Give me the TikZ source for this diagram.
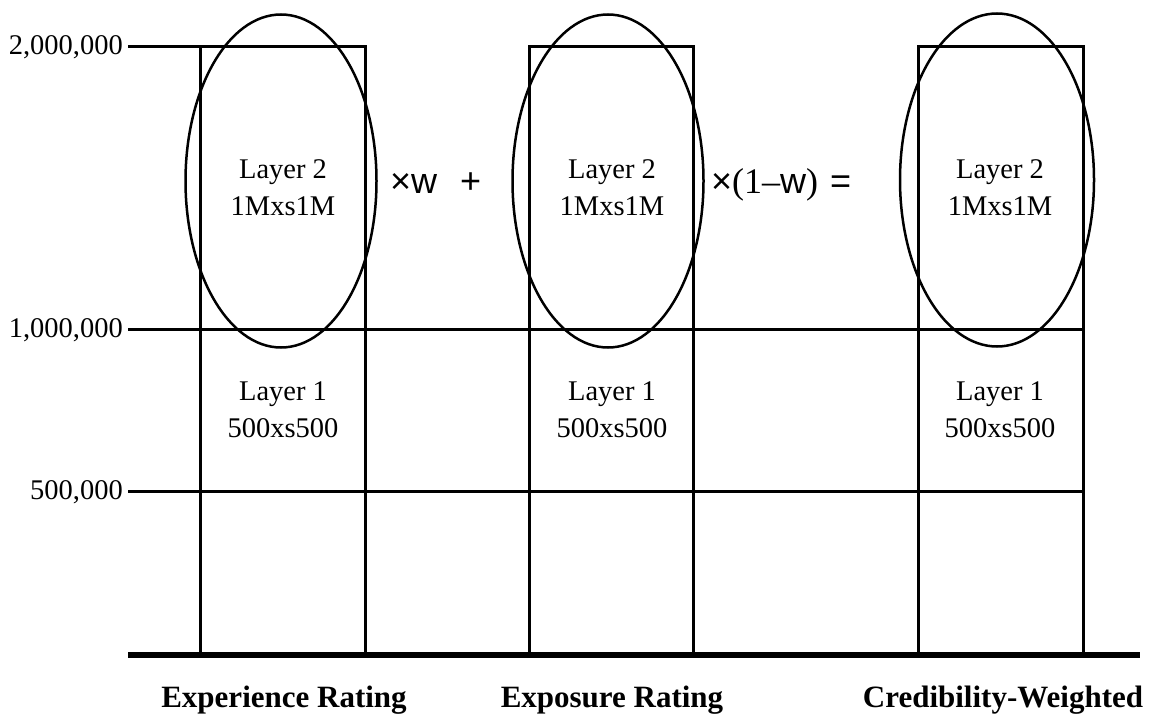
\documentclass[tikz,border=0pt]{standalone}
\usepackage{fontspec}
\setmainfont{Liberation Serif}
\newfontfamily\sansf{Liberation Sans}
\usetikzlibrary{shapes.geometric}
\begin{document}
\begin{tikzpicture}[x=1pt,y=-1pt,
  boxline/.style={line width=3pt},
  oval/.style={draw,line width=2.5pt,ellipse,inner sep=0pt},
  lab/.style={font=\fontsize{28.5}{34}\selectfont,anchor=base,inner sep=0pt},
  axlab/.style={font=\fontsize{28.5}{34}\selectfont,anchor=base east,inner sep=0pt},
  oplab/.style={font=\fontsize{36}{40}\selectfont,inner sep=0pt,anchor=base west},
  captext/.style={font=\bfseries\fontsize{31}{34}\selectfont,inner sep=0pt,anchor=base}]
\useasboundingbox (0,0) rectangle (1164,725);
% axis labels
\node[axlab] (l2m) at (123,55) {2,000,000};
\node[axlab] (l1m) at (123,337) {1,000,000};
\node[axlab] (l5k) at (123,499) {500,000};
% coordinates
\coordinate (a0) at (128,47);
\coordinate (b0) at (128,329);
\coordinate (c0) at (128,491);
\coordinate (d0) at (128,655);
\coordinate (b1) at (1083,329);
\coordinate (c1) at (1083,491);
\coordinate (d1) at (1140,655);
% boxes
\foreach \n/\xl/\xr in {1/200/365,2/529/693,3/918/1083}{
  \draw[boxline] (\xl,655) -- (\xl,47) -- (\xr,47) -- (\xr,655);
}
\draw[boxline] (a0) -- (200,47);
\draw[boxline] (b0) -- (b1);
\draw[boxline] (c0) -- (c1);
\draw[line width=5.5pt] (d0) -- (d1);
% ellipses
\node[oval,minimum width=191pt,minimum height=333pt] (e1) at (281,181) {};
\node[oval,minimum width=191pt,minimum height=333pt] (e2) at (608,181) {};
\node[oval,minimum width=194pt,minimum height=333pt] (e3) at (997,180) {};
% texts
\foreach \n/\x in {1/283,2/612,3/1000}{
  \node[lab] (t2a\n) at (\x,178) {Layer 2};
  \node[lab] (t2b\n) at (\x,215) {1Mxs1M};
  \node[lab] (t1a\n) at (\x,400) {Layer 1};
  \node[lab] (t1b\n) at (\x,437) {500xs500};
}
% operators
\node[oplab] (opw) at (390,193) {{\sansf ×w}};
\node[oplab] (opp) at (460,193) {{\sansf +}};
\node[oplab] (opm) at (711,193) {{\sansf ×}(1–{\sansf w})\,\,{\sansf =}};
% captions
\node[captext] (c1t) at (284,707) {Experience Rating};
\node[captext] (c2t) at (612,707) {Exposure Rating};
\node[captext] (c3t) at (1003,707) {Credibility-Weighted};
\end{tikzpicture}
\end{document}
